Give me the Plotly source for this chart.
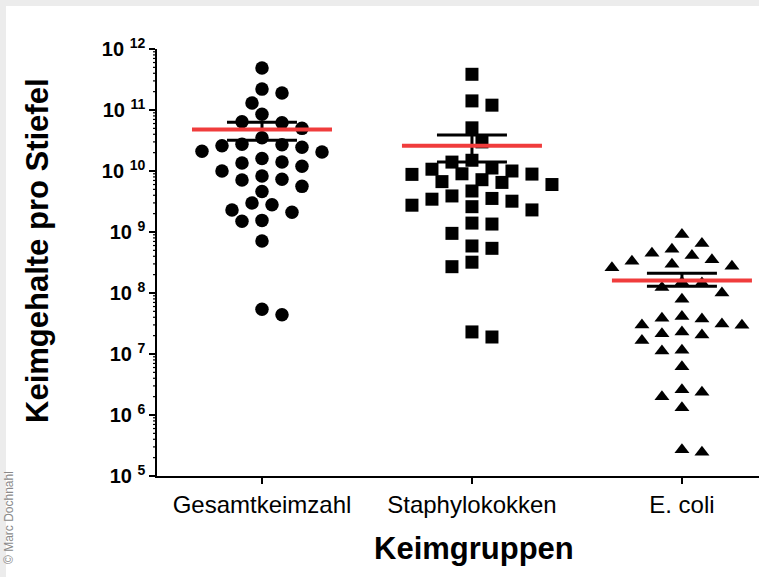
import numpy as np
import plotly.graph_objects as go

# ---------------- data ----------------
categories = ["Gesamtkeimzahl", "Staphylokokken", "E. coli"]

gesamt = [4.9e11, 2.2e11, 1.9e11, 1.3e11, 8.5e10, 6.4e10, 6.2e10, 5.0e10, 3.5e10,
          2.75e10, 2.7e10, 2.6e10, 2.45e10, 2.1e10, 2.05e10, 1.6e10, 1.4e10, 1.35e10,
          1.2e10, 1.0e10, 8.3e9, 7.3e9, 7.1e9, 5.6e9, 4.6e9, 3.0e9, 2.8e9, 2.3e9,
          2.1e9, 1.55e9, 1.5e9, 7.1e8, 5.4e7, 4.4e7]

staph = [3.85e11, 1.41e11, 1.2e11, 5.1e10, 3.0e10, 1.5e10, 1.4e10, 1.12e10, 1.07e10,
         1.0e10, 9.0e9, 8.9e9, 8.8e9, 7.2e9, 6.7e9, 6.5e9, 6.0e9, 4.7e9, 3.9e9,
         3.55e9, 3.45e9, 3.2e9, 2.75e9, 2.6e9, 2.3e9, 1.4e9, 1.35e9, 9.5e8, 5.9e8,
         5.4e8, 3.2e8, 2.7e8, 2.3e7, 1.9e7]

ecoli = [9.1e8, 6.5e8, 5.2e8, 4.5e8, 4.1e8, 3.5e8, 3.3e8, 2.95e8, 2.75e8, 2.6e8,
         1.5e8, 1.46e8, 1.23e8, 1.0e8, 7.9e7, 4.1e7, 3.85e7, 3.75e7, 3.1e7, 3.0e7,
         2.95e7, 2.3e7, 2.15e7, 2.05e7, 1.66e7, 1.15e7, 1.12e7, 6.2e6, 2.6e6, 2.35e6,
         2.0e6, 1.32e6, 2.7e5, 2.45e5]

group_means = [4.8e10, 2.6e10, 1.6e8]
sem_upper = [6.3e10, 3.9e10, 2.1e8]
sem_lower = [3.2e10, 1.4e10, 1.29e8]

y_tick_exponents = [5, 6, 7, 8, 9, 10, 11, 12]

# ---------------- layout constants ----------------
W, H = 759, 577
ML, MR, MT, MB = 157, 0, 49, 101
PLOT_W = W - ML - MR
PLOT_H = H - MT - MB
X_RANGE = [-0.5, 2.367]
Y_RANGE = [y_tick_exponents[0], y_tick_exponents[-1]]
PX_PER_CAT = PLOT_W / (X_RANGE[1] - X_RANGE[0])
PX_PER_DEC = PLOT_H / (Y_RANGE[1] - Y_RANGE[0])


def swarm_offsets(vals, step=10.0, dmin=15.0):
    """Greedy beeswarm in pixel space, returns offsets in category units."""
    ys = np.log10(np.asarray(vals, dtype=float)) * PX_PER_DEC
    order = np.argsort(-ys)
    placed = []  # (x_px, y_px)
    offs = np.zeros(len(ys))
    for i in order:
        y = ys[i]
        k = 0
        chosen = None
        while chosen is None:
            if k == 0:
                cands = [0.0]
            else:
                near = [px for px, py in placed if abs(py - y) < 2 * dmin]
                bias = sum(near)
                if bias > 0:
                    cands = [-k * step, k * step]
                else:
                    cands = [k * step, -k * step]
            for c in cands:
                ok = all((c - px) ** 2 + (y - py) ** 2 >= dmin ** 2 for px, py in placed)
                if ok:
                    chosen = c
                    break
            k += 1
        placed.append((chosen, y))
        offs[i] = chosen / PX_PER_CAT
    return offs


groups = [gesamt, staph, ecoli]
symbols = ["circle", "square", "triangle-up"]
sizes = [13.5, 13, 13]

fig = go.Figure()

for gi, (vals, sym, sz) in enumerate(zip(groups, symbols, sizes)):
    offs = swarm_offsets(vals)
    fig.add_trace(go.Scatter(
        x=gi + offs, y=vals, mode="markers",
        marker=dict(symbol=sym, size=sz, color="black", line=dict(width=0)),
        hoverinfo="y", showlegend=False,
    ))

# SEM error bars (black)
cap_half = 35.0 / PX_PER_CAT
ex, ey = [], []
for gi in range(3):
    ex += [gi, gi, None]
    ey += [sem_lower[gi], sem_upper[gi], None]
    for v in (sem_lower[gi], sem_upper[gi]):
        ex += [gi - cap_half, gi + cap_half, None]
        ey += [v, v, None]
fig.add_trace(go.Scatter(x=ex, y=ey, mode="lines",
                         line=dict(color="black", width=3),
                         hoverinfo="skip", showlegend=False))

# mean lines (red)
mean_half = 70.0 / PX_PER_CAT
mx, my = [], []
for gi in range(3):
    mx += [gi - mean_half, gi + mean_half, None]
    my += [group_means[gi], group_means[gi], None]
fig.add_trace(go.Scatter(x=mx, y=my, mode="lines",
                         line=dict(color="#f03c3c", width=4),
                         hoverinfo="skip", showlegend=False))

fig.update_layout(
    width=W, height=H,
    margin=dict(l=ML, r=MR, t=MT, b=MB, pad=0),
    paper_bgcolor="white", plot_bgcolor="white",
    font=dict(family="Liberation Sans, Arial, sans-serif", color="black"),
    xaxis=dict(
        range=X_RANGE, tickmode="array", tickvals=[0, 1, 2], ticktext=categories,
        ticks="outside", ticklen=6, tickwidth=1.5, tickcolor="black",
        showline=True, linecolor="black", linewidth=1.5,
        showgrid=False, zeroline=False,
        tickfont=dict(size=24, color="black"),
    ),
    yaxis=dict(
        type="log", range=Y_RANGE, tickmode="array",
        tickvals=[10 ** e for e in y_tick_exponents],
        ticktext=[f"<b>10 <sup>{e}</sup></b>" for e in y_tick_exponents],
        ticks="outside", ticklen=6, tickwidth=1.5, tickcolor="black",
        showline=True, linecolor="black", linewidth=1.5,
        showgrid=False, zeroline=False,
        tickfont=dict(size=20, color="black"),
    ),
)


def px_to_paper_x(px):
    return (px - ML) / PLOT_W


def px_to_paper_y(py):
    return (H - MB - py) / PLOT_H


# minor log ticks on the y axis (2..9 within each decade), placed in paper space
for e in range(Y_RANGE[0], Y_RANGE[1]):
    for m in range(2, 10):
        yp = (np.log10(m * 10 ** e) - Y_RANGE[0]) / (Y_RANGE[1] - Y_RANGE[0])
        fig.add_shape(type="line", xref="paper", yref="paper",
                      x0=px_to_paper_x(ML - 4), x1=px_to_paper_x(ML),
                      y0=yp, y1=yp,
                      line=dict(color="black", width=1.2))

fig.add_annotation(
    text="<b>Keimgehalte pro Stiefel</b>", textangle=-90,
    x=px_to_paper_x(37), y=px_to_paper_y(251), xref="paper", yref="paper",
    xanchor="center", yanchor="middle", showarrow=False,
    font=dict(size=31, color="black"),
)
fig.add_annotation(
    text="<b>Keimgruppen</b>",
    x=px_to_paper_x(474), y=px_to_paper_y(548), xref="paper", yref="paper",
    xanchor="center", yanchor="middle", showarrow=False,
    font=dict(size=31, color="black"),
)
fig.add_annotation(
    text="© Marc Dochnahl", textangle=-90,
    x=px_to_paper_x(9), y=px_to_paper_y(518), xref="paper", yref="paper",
    xanchor="center", yanchor="middle", showarrow=False,
    font=dict(size=12, color="#8a8a8a"),
)

# light frame shadow along the top and left edges
fig.add_shape(type="rect", xref="paper", yref="paper", layer="below",
              x0=px_to_paper_x(0), x1=px_to_paper_x(W + 2),
              y0=px_to_paper_y(6), y1=px_to_paper_y(0),
              fillcolor="#ececec", line=dict(width=0))
fig.add_shape(type="rect", xref="paper", yref="paper", layer="below",
              x0=px_to_paper_x(0), x1=px_to_paper_x(6),
              y0=px_to_paper_y(H + 2), y1=px_to_paper_y(0),
              fillcolor="#ececec", line=dict(width=0))

fig.write_html("out.html", config={"displayModeBar": False},
               post_script="document.body.style.margin='0';document.body.style.overflow='hidden';")
